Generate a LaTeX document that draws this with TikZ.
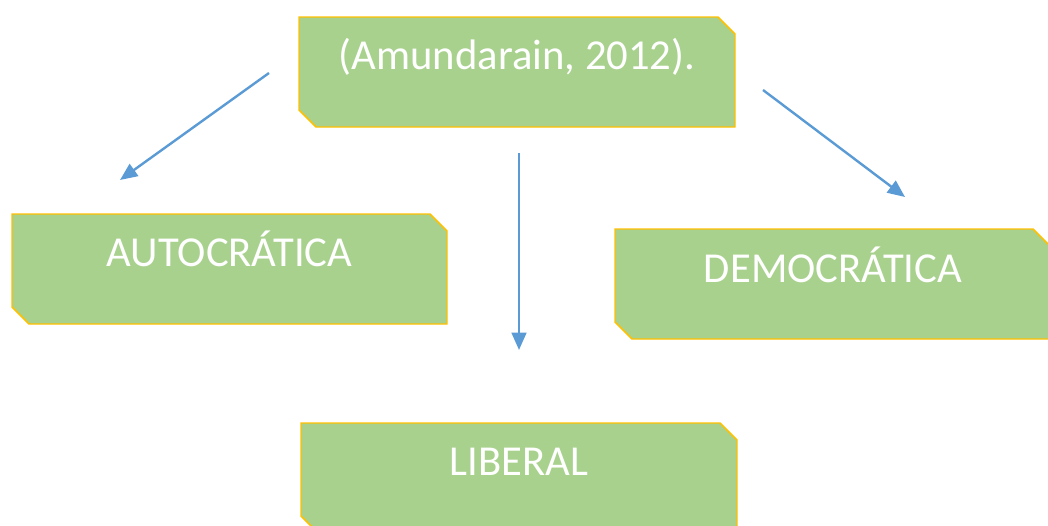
\documentclass[tikz,border=0pt]{standalone}
\usepackage{fontspec}
\setmainfont{Carlito}
\usetikzlibrary{arrows.meta}
\definecolor{boxfill}{HTML}{A9D18E}
\definecolor{boxline}{HTML}{FFC000}
\definecolor{arrowblue}{HTML}{5B9BD5}
\tikzset{
  snipbox/.style={fill=boxfill, draw=boxline, line width=1.1pt, line join=miter},
  boxtext/.style={text=white, font=\fontsize{32}{38}\selectfont, anchor=base, inner sep=0pt},
  conn/.style={draw=arrowblue, line width=1.8pt, -{Triangle[length=13pt,width=11pt]}}
}
\newcommand{\snipped}[5]{% name, left, top, right, bottom
  \draw[snipbox] (#2,#3) -- (#4-17,#3) -- (#4,#3+17) -- (#4,#5) -- (#2+17,#5) -- (#2,#5-17) -- cycle;
}
\begin{document}
\begin{tikzpicture}[x=0.75pt,y=-0.75pt]
\useasboundingbox (0,0) rectangle (1048,525);
\clip (0,0) rectangle (1048,525);
% boxes
\snipped{top}{299}{17}{735}{127}
\node[boxtext] (top) at (517,69) {(Amundarain, 2012).};
\snipped{auto}{12}{214}{447}{324}
\node[boxtext] (auto) at (229.5,266) {AUTOCRÁTICA};
\snipped{demo}{615}{229}{1050}{339}
\node[boxtext] (demo) at (833,282) {DEMOCRÁTICA};
\snipped{lib}{301}{423}{737}{533}
\node[boxtext] (lib) at (519,475) {LIBERAL};
% connector ends
\coordinate (a1s) at (269,73);
\coordinate (a1e) at (120,180);
\coordinate (a2s) at (519,153);
\coordinate (a2e) at (519,350);
\coordinate (a3s) at (763,90);
\coordinate (a3e) at (905,197);
\draw[conn] (a1s) -- (a1e);
\draw[conn] (a2s) -- (a2e);
\draw[conn] (a3s) -- (a3e);
\end{tikzpicture}
\end{document}
